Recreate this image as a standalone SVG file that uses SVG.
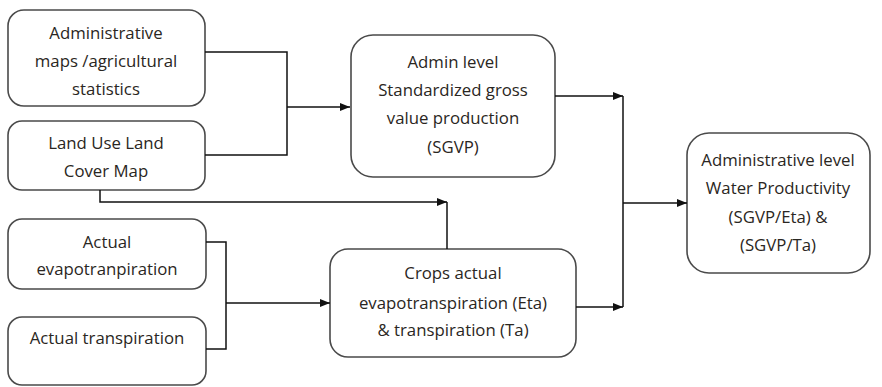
<svg xmlns="http://www.w3.org/2000/svg" width="882" height="387" viewBox="0 0 882 387">
<style>
.box{fill:#fff;stroke:#4a4a4a;stroke-width:1.6}
.t{font-family:"Open Sans","Noto Sans",sans-serif;font-size:16.8px;fill:#2a2622;text-anchor:middle}
.c{fill:none;stroke:#111;stroke-width:1.5}
</style>
<defs>
<marker id="ah" markerWidth="10" markerHeight="8" refX="10" refY="4" orient="auto" markerUnits="userSpaceOnUse">
<path d="M0,0 L10,4 L0,8 Z" fill="#111"/>
</marker>
</defs>
<rect width="882" height="387" fill="#fff"/>
<g id="n1"><rect class="box" x="8" y="10" width="197" height="96" rx="16"/>
<text class="t" x="106" y="39">Administrative</text>
<text class="t" x="106" y="67">maps /agricultural</text>
<text class="t" x="106" y="95">statistics</text></g>
<g id="n2"><rect class="box" x="8" y="121" width="197" height="69" rx="14"/>
<text class="t" x="106" y="149">Land Use Land</text>
<text class="t" x="106" y="177">Cover Map</text></g>
<g id="n3"><rect class="box" x="351" y="35" width="204" height="142" rx="22"/>
<text class="t" x="453" y="68">Admin level</text>
<text class="t" x="453" y="96">Standardized gross</text>
<text class="t" x="453" y="124">value production</text>
<text class="t" x="453" y="153">(SGVP)</text></g>
<g id="n4"><rect class="box" x="8" y="219" width="198" height="70" rx="14"/>
<text class="t" x="107" y="248">Actual</text>
<text class="t" x="107" y="275">evapotranpiration</text></g>
<g id="n5"><rect class="box" x="8" y="317" width="198" height="68" rx="14"/>
<text class="t" x="107" y="344">Actual transpiration</text></g>
<g id="n6"><rect class="box" x="330" y="249" width="246" height="108" rx="18"/>
<text class="t" x="453" y="279">Crops actual</text>
<text class="t" x="453" y="309">evapotranspiration (Eta)</text>
<text class="t" x="453" y="336">&amp; transpiration (Ta)</text></g>
<g id="n7"><rect class="box" x="687" y="133" width="183" height="140" rx="22"/>
<text class="t" x="778" y="166">Administrative level</text>
<text class="t" x="778" y="194">Water Productivity</text>
<text class="t" x="778" y="223">(SGVP/Eta) &amp;</text>
<text class="t" x="778" y="251">(SGVP/Ta)</text></g>
<g id="connectors">
<path class="c" d="M205,52 H287 V155 H205"/>
<path class="c" d="M287,107 H350" marker-end="url(#ah)"/>
<path class="c" d="M100,190 V202 H447" marker-end="url(#ah)"/>
<path class="c" d="M447,202 V249"/>
<path class="c" d="M206,242 H226 V349 H206"/>
<path class="c" d="M226,303 H330" marker-end="url(#ah)"/>
<path class="c" d="M555,96 H623" marker-end="url(#ah)"/>
<path class="c" d="M576,307 H623" marker-end="url(#ah)"/>
<path class="c" d="M623,96 V307"/>
<path class="c" d="M623,203 H687" marker-end="url(#ah)"/>
</g>
</svg>
